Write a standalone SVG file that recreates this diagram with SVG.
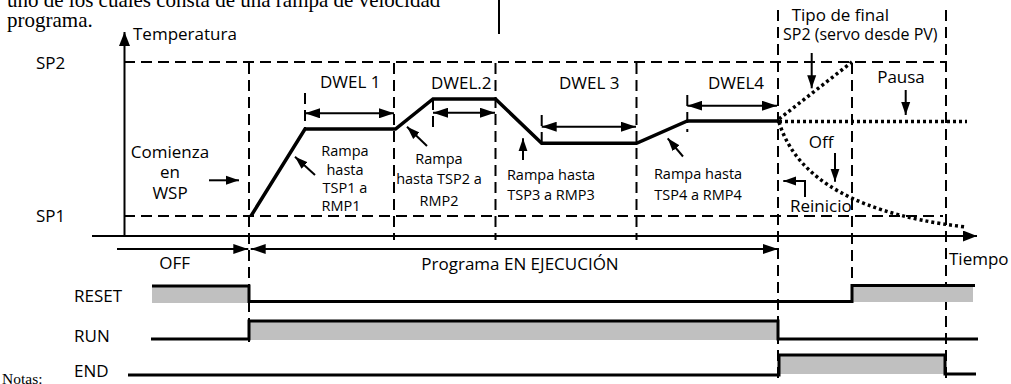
<svg xmlns="http://www.w3.org/2000/svg" width="1011" height="384" viewBox="0 0 1011 384">
<style>
text{font-family:"Open Sans","Noto Sans","DejaVu Sans",sans-serif;font-size:17px;fill:#000}
.serif{font-family:"Liberation Serif","Times New Roman",serif;font-size:21px}
.sm{font-size:14.5px}
.mid{text-anchor:middle}
.dash{stroke:#000;stroke-width:2;stroke-dasharray:11 6;fill:none}
.dot{stroke:#000;stroke-width:3.5;stroke-dasharray:3 3;fill:none}
.ln{stroke:#000;stroke-width:2;fill:none}
.thick{stroke:#000;stroke-width:3.5;fill:none;stroke-linejoin:miter}
.sig{stroke:#000;stroke-width:3;fill:none}
.gray{fill:#c0c0c0;stroke:none}
.arr{stroke:#000;stroke-width:2;fill:none;marker-end:url(#ap)}
.darr{stroke:#000;stroke-width:2;fill:none;marker-start:url(#ah);marker-end:url(#ah)}
.rarr{stroke:#000;stroke-width:2;fill:none;marker-end:url(#ah)}
</style>
<defs>
<marker id="ah" markerUnits="userSpaceOnUse" markerWidth="15" markerHeight="10" refX="15" refY="5" orient="auto-start-reverse"><path d="M0,0L15,5L0,10z" fill="#000"/></marker>
<marker id="ap" markerUnits="userSpaceOnUse" markerWidth="13" markerHeight="10" refX="13" refY="5" orient="auto"><path d="M0,0.5L13,5L0,9.5z" fill="#000"/></marker>
<marker id="ax" markerUnits="userSpaceOnUse" markerWidth="14" markerHeight="11" refX="14" refY="5.5" orient="auto"><path d="M0,0L14,5.5L0,11z" fill="#000"/></marker>
</defs>

<g id="intro-text">
<text class="serif" x="7" y="7">uno de los cuales consta de una rampa de velocidad</text>
<text class="serif" x="7" y="27">programa.</text>
<line class="ln" x1="499" y1="0" x2="499" y2="34"/>
<text class="serif" x="2" y="384" style="font-size:15.5px">Notas:</text>
</g>

<g id="axes">
<line class="ln" x1="124.5" y1="236" x2="124.5" y2="32" marker-end="url(#ax)"/>
<line class="ln" x1="92" y1="236" x2="977" y2="236" marker-end="url(#ax)"/>
<text x="133" y="40">Temperatura</text>
<text x="949" y="265">Tiempo</text>
<text x="36" y="69">SP2</text>
<text x="36" y="222">SP1</text>
<line class="dash" x1="124" y1="62" x2="947" y2="62"/>
<line class="dash" x1="124" y1="216" x2="943" y2="216"/>
</g>

<g id="segment-lines">
<line class="dash" x1="249" y1="63" x2="249" y2="342"/>
<line class="dash" x1="394" y1="63" x2="394" y2="240"/>
<line class="dash" x1="495.5" y1="63" x2="495.5" y2="240"/>
<line class="dash" x1="636.5" y1="63" x2="636.5" y2="240"/>
<line class="dash" x1="778" y1="10" x2="778" y2="384"/>
<line class="dash" x1="852" y1="63" x2="852" y2="286"/>
<line class="dash" x1="946" y1="10" x2="946" y2="384"/>
<line class="dash" x1="305" y1="93" x2="305" y2="129"/>
<line class="dash" x1="433" y1="99" x2="433" y2="133"/>
<line class="dash" x1="541.7" y1="115" x2="541.7" y2="148"/>
<line class="dash" x1="687.3" y1="95" x2="687.3" y2="132"/>
</g>

<g id="profile">
<polyline class="thick" points="251,216 305,129 395.5,129 433,99 495.5,99 541.7,143.3 636.5,143.3 687.3,121 778,121"/>
<line class="dot" x1="779" y1="119" x2="852" y2="62"/>
<line class="dot" x1="779" y1="121.5" x2="967" y2="121.5"/>
<path class="dot" d="M779,122 C792,165 835,212 966,227"/>
</g>

<g id="dwell-labels">
<text x="320" y="88">DWEL 1</text>
<line class="darr" x1="305" y1="113.3" x2="394" y2="113.3"/>
<text x="431" y="89">DWEL.2</text>
<line class="darr" x1="433" y1="112.7" x2="495" y2="112.7"/>
<text x="559" y="89">DWEL 3</text>
<line class="darr" x1="541.7" y1="126.7" x2="636" y2="126.7"/>
<text x="708" y="89">DWEL4</text>
<line class="darr" x1="687.3" y1="105.7" x2="777" y2="105.7"/>
</g>

<g id="start-label">
<text class="mid" x="170" y="158">Comienza</text>
<text class="mid" x="170" y="178">en</text>
<text class="mid" x="170" y="199">WSP</text>
<line class="arr" x1="209" y1="180.3" x2="239" y2="180.3"/>
</g>

<g id="ramp1-label">
<text class="mid sm" x="345" y="156">Rampa</text>
<text class="mid sm" x="345" y="175">hasta</text>
<text class="mid sm" x="345" y="193">TSP1 a</text>
<text class="mid sm" x="341" y="211">RMP1</text>
<line class="arr" x1="315" y1="175" x2="295" y2="156.7"/>
</g>

<g id="ramp2-label">
<text class="mid sm" x="439" y="164">Rampa</text>
<text class="mid sm" x="439" y="184">hasta TSP2 a</text>
<text class="mid sm" x="439" y="206">RMP2</text>
<line class="arr" x1="427" y1="146" x2="407" y2="126.7"/>
</g>

<g id="ramp3-label">
<text class="mid sm" x="551" y="180">Rampa hasta</text>
<text class="mid sm" x="551" y="200">TSP3 a RMP3</text>
<line class="arr" x1="523" y1="160" x2="523" y2="138.3"/>
</g>

<g id="ramp4-label">
<text class="mid sm" x="698" y="179.3">Rampa hasta</text>
<text class="mid sm" x="698" y="200">TSP4 a RMP4</text>
<line class="arr" x1="683" y1="156.5" x2="667.7" y2="138.3"/>
</g>

<g id="end-labels">
<text x="791.7" y="20.5">Tipo de final</text>
<text x="783" y="40" style="font-size:16px">SP2 (servo desde PV)</text>
<line class="arr" x1="811.7" y1="53" x2="811.7" y2="88.3"/>
<text class="mid" x="901" y="83.3">Pausa</text>
<line class="arr" x1="905.7" y1="90" x2="905.7" y2="115"/>
<text class="mid" x="821" y="148.3">Off</text>
<line class="arr" x1="835" y1="153" x2="835" y2="181.7"/>
<text x="790" y="211.7">Reinicio</text>
<polyline class="arr" points="805,197 805,181 783.3,181"/>
</g>

<g id="state-bar">
<line class="rarr" x1="117" y1="249" x2="248.3" y2="249"/>
<line class="darr" x1="250.7" y1="249" x2="778" y2="249"/>
<text x="159.3" y="269">OFF</text>
<text class="mid" x="520" y="270">Programa EN EJECUCIÓN</text>
</g>

<g id="signal-reset">
<text x="74" y="302.3">RESET</text>
<rect class="gray" x="152" y="287" width="96" height="16"/>
<rect class="gray" x="853" y="286" width="120" height="16"/>
<path class="sig" d="M152,286 H249 V301.5 H852 V285.5 H975"/>
</g>

<g id="signal-run">
<text x="74" y="341.7">RUN</text>
<rect class="gray" x="250" y="322" width="527" height="18"/>
<path class="sig" d="M151,339 H249 V321 H778 V339 H978"/>
</g>

<g id="signal-end">
<text x="74" y="376.7">END</text>
<rect class="gray" x="780" y="356" width="164" height="18"/>
<path class="sig" d="M128,375 H779 V355 H945 V374 H976"/>
</g>
</svg>
